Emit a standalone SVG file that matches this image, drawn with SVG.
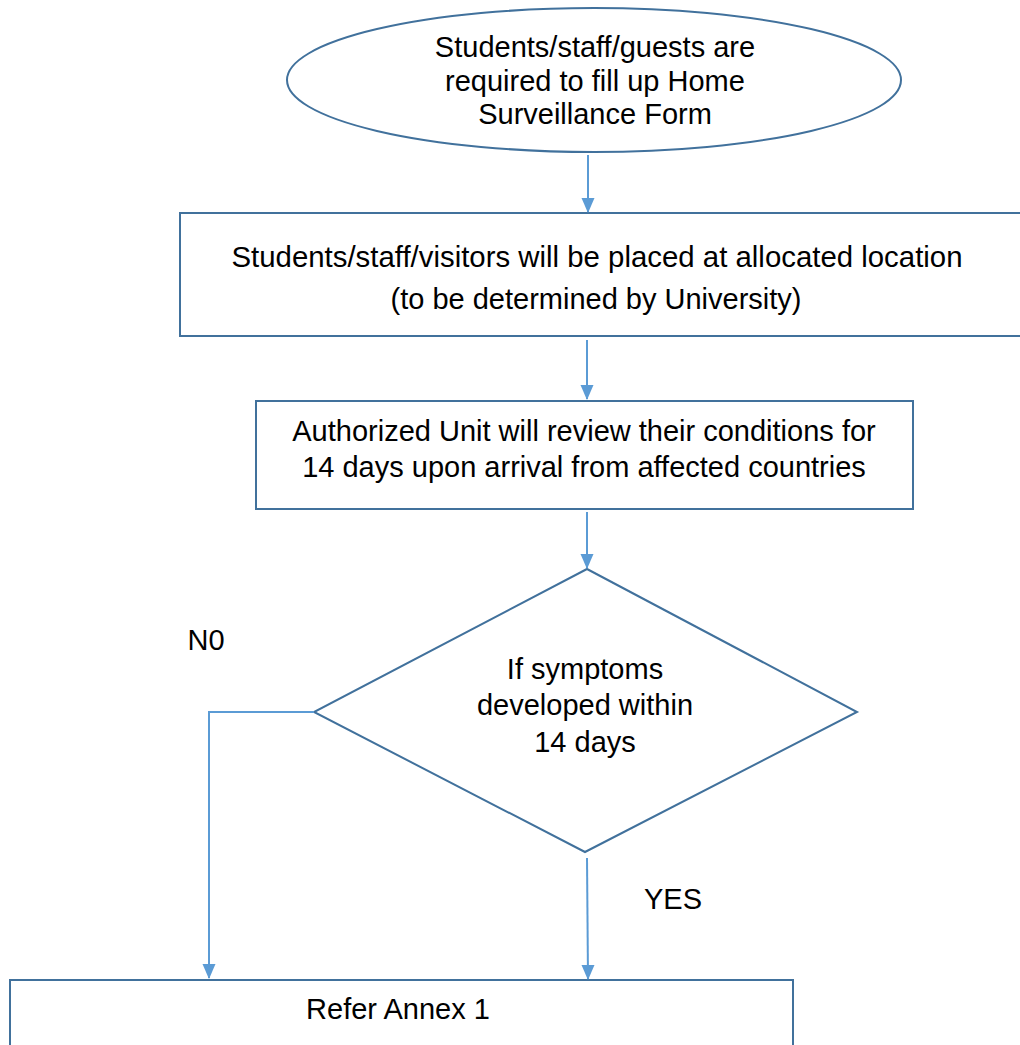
<svg xmlns="http://www.w3.org/2000/svg" width="1020" height="1045" viewBox="0 0 1020 1045">
<defs>
<marker id="ah" markerWidth="14" markerHeight="14" refX="14" refY="7" orient="auto" markerUnits="userSpaceOnUse" viewBox="0 0 14 14">
<path d="M0,0.5 L14,7 L0,13.5 Z" fill="#5b9bd5"/>
</marker>
<style>
.shape{fill:#fff;stroke:#41719c;stroke-width:2}
.t{font-family:"Liberation Sans",Arial,sans-serif;font-size:29px;fill:#000;text-anchor:middle}
.c{fill:none;stroke:#5b9bd5;stroke-width:2}
</style>
</defs>
<rect width="1020" height="1045" fill="#fff"/>
<g id="n1">
<ellipse class="shape" cx="594" cy="80" rx="307" ry="72"/>
<text class="t" x="595" y="57">Students/staff/guests are</text>
<text class="t" x="595" y="91">required to fill up Home</text>
<text class="t" x="595" y="124">Surveillance Form</text>
</g>
<g id="n2">
<rect class="shape" x="180" y="213" width="860" height="123"/>
<text class="t" x="597" y="267" textLength="731" lengthAdjust="spacingAndGlyphs">Students/staff/visitors will be placed at allocated location</text>
<text class="t" x="596" y="309">(to be determined by University)</text>
</g>
<g id="n3">
<rect class="shape" x="256" y="401" width="657" height="108"/>
<text class="t" x="584" y="441">Authorized Unit will review their conditions for</text>
<text class="t" x="584" y="477">14 days upon arrival from affected countries</text>
</g>
<g id="n4">
<polygon class="shape" points="587,569 857,712 585,852 314,712"/>
<text class="t" x="585" y="679">If symptoms</text>
<text class="t" x="585" y="715">developed within</text>
<text class="t" x="585" y="752">14 days</text>
</g>
<g id="n5">
<rect class="shape" x="10" y="980" width="783" height="80"/>
<text class="t" x="398" y="1019">Refer Annex 1</text>
</g>
<g id="labels">
<text class="t" x="206" y="650">N0</text>
<text class="t" x="673" y="909">YES</text>
</g>
<g id="connectors">
<line class="c" x1="588" y1="155" x2="588" y2="212"/>
<line class="c" x1="587" y1="340" x2="587" y2="399"/>
<line class="c" x1="587" y1="512" x2="587" y2="568"/>
<polyline class="c" points="314,712 209,712 209,978"/>
<line class="c" x1="587" y1="858" x2="588" y2="979"/>
</g>
<g id="arrowheads" fill="#5b9bd5">
<path d="M581.5,198 L594.5,198 L588,213 Z"/>
<path d="M580.5,385 L593.5,385 L587,400 Z"/>
<path d="M580.5,554 L593.5,554 L587,569 Z"/>
<path d="M202.5,964 L215.5,964 L209,979 Z"/>
<path d="M581.5,965 L594.5,965 L588,980 Z"/>
</g>
</svg>
